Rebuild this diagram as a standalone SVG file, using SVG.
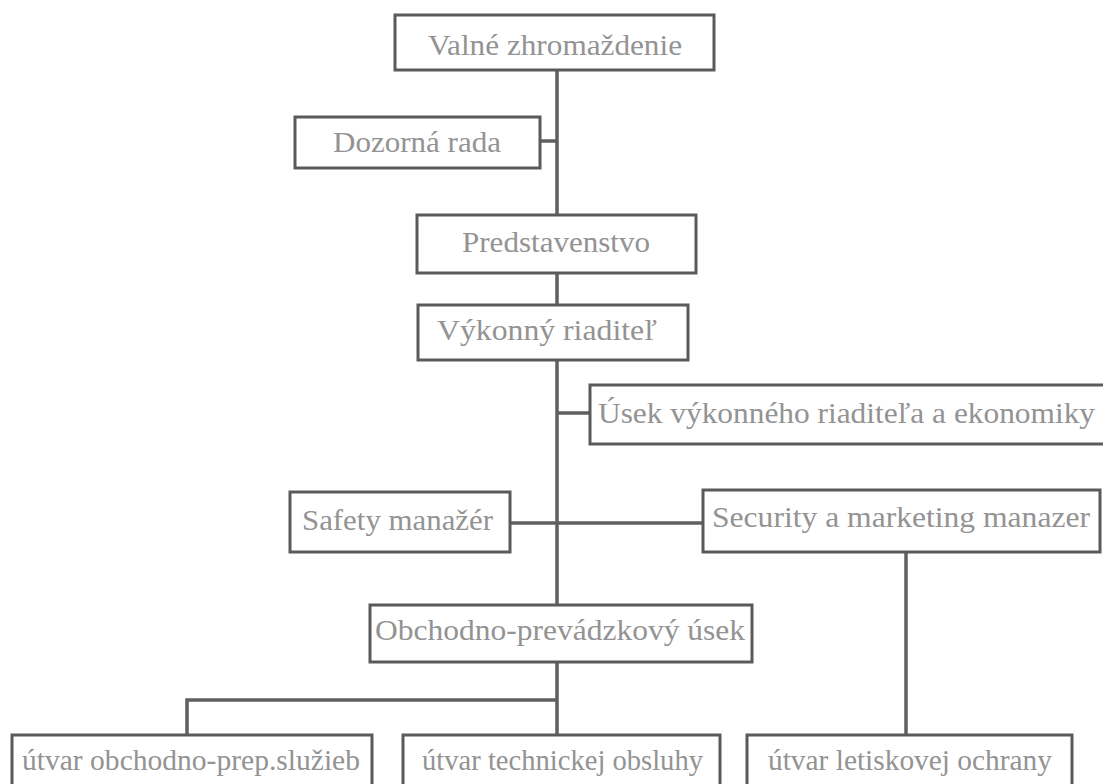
<svg xmlns="http://www.w3.org/2000/svg" width="1103" height="784" viewBox="0 0 1103 784">
<style>
.box{fill:#fff;stroke:#5a5a5a;stroke-width:3}
.ln{stroke:#5f5f5f;stroke-width:3.5;fill:none}
.t{font-family:"Liberation Serif","Times New Roman",serif;font-size:30px;fill:#939393;text-anchor:start}
</style>
<rect width="1103" height="784" fill="#fff"/>
<g id="connectors">
<path class="ln" d="M557 70 V735"/>
<path class="ln" d="M540 141 H557"/>
<path class="ln" d="M557 413 H590"/>
<path class="ln" d="M510 523 H703"/>
<path class="ln" d="M557 700 H187 V735"/>
<path class="ln" d="M906 552 V735"/>
</g>
<g id="n1"><rect class="box" x="395" y="15" width="319" height="55"/><text class="t" x="428" y="55" textLength="254" lengthAdjust="spacingAndGlyphs">Valné zhromaždenie</text></g>
<g id="n2"><rect class="box" x="295" y="117" width="245" height="51"/><text class="t" x="333" y="152" textLength="168" lengthAdjust="spacingAndGlyphs">Dozorná rada</text></g>
<g id="n3"><rect class="box" x="417" y="215" width="279" height="58"/><text class="t" x="462" y="252" textLength="188" lengthAdjust="spacingAndGlyphs">Predstavenstvo</text></g>
<g id="n4"><rect class="box" x="418" y="305" width="270" height="55"/><text class="t" x="437" y="340" textLength="220" lengthAdjust="spacingAndGlyphs">Výkonný riaditeľ</text></g>
<g id="n5"><rect class="box" x="590" y="385" width="530" height="59"/><text class="t" x="598" y="423" textLength="497" lengthAdjust="spacingAndGlyphs">Úsek výkonného riaditeľa a ekonomiky</text></g>
<g id="n6"><rect class="box" x="290" y="492" width="220" height="60"/><text class="t" x="302" y="530" textLength="191" lengthAdjust="spacingAndGlyphs">Safety manažér</text></g>
<g id="n7"><rect class="box" x="703" y="490" width="397" height="62"/><text class="t" x="712" y="527" textLength="378" lengthAdjust="spacingAndGlyphs">Security a marketing manazer</text></g>
<g id="n8"><rect class="box" x="370" y="605" width="382" height="57"/><text class="t" x="375" y="640" textLength="370" lengthAdjust="spacingAndGlyphs">Obchodno-prevádzkový úsek</text></g>
<g id="n9"><rect class="box" x="12" y="735" width="360" height="70"/><text class="t" x="22" y="770" textLength="338" lengthAdjust="spacingAndGlyphs">útvar obchodno-prep.služieb</text></g>
<g id="n10"><rect class="box" x="403" y="735" width="317" height="70"/><text class="t" x="422" y="770" textLength="281" lengthAdjust="spacingAndGlyphs">útvar technickej obsluhy</text></g>
<g id="n11"><rect class="box" x="747" y="735" width="325" height="70"/><text class="t" x="768" y="770" textLength="284" lengthAdjust="spacingAndGlyphs">útvar letiskovej ochrany</text></g>
</svg>
